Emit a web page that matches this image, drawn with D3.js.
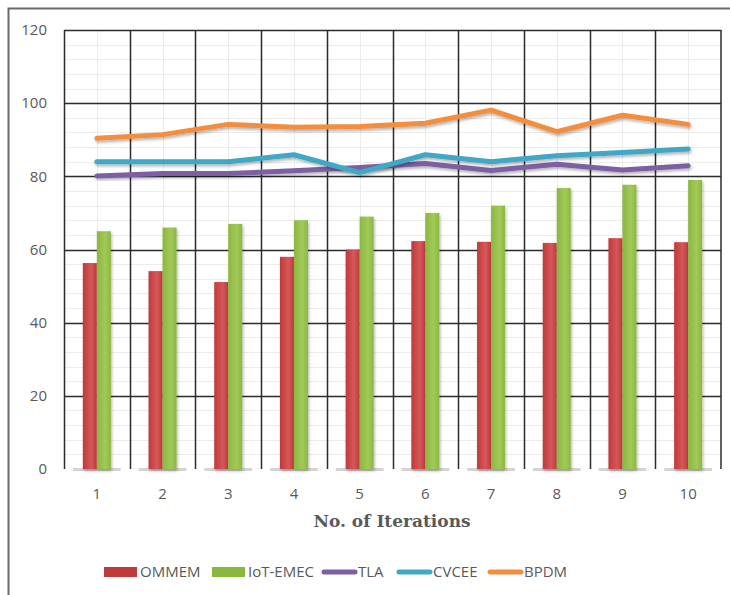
<!DOCTYPE html>
<html>
<head>
<meta charset="utf-8">
<script src="https://cdn.jsdelivr.net/npm/d3@7"></script>
<style>
  body { margin: 0; background: #fff; }
  svg { display: block; }
</style>
</head>
<body>
<svg id="chart" width="730" height="595"></svg>
<script>
// data
var iterations = ["1", "2", "3", "4", "5", "6", "7", "8", "9", "10"];
var ommem   = [56.3, 54.1, 51.1, 58, 60, 62.3, 62.1, 61.8, 63.1, 62];
var iotEmec = [65, 66, 67, 68, 69, 70, 72, 76.8, 77.7, 79];
var tla     = [80.1, 80.8, 80.8, 81.5, 82.4, 83.5, 81.6, 83.3, 81.7, 82.9];
var cvcee   = [84, 84, 84, 85.9, 81, 85.9, 84, 85.6, 86.5, 87.5];
var bpdm    = [90.4, 91.4, 94.2, 93.4, 93.6, 94.5, 98.1, 92.2, 96.7, 94.2];
var yTicks  = [0, 20, 40, 60, 80, 100, 120];

var barSeries = [
  {name: "OMMEM", values: ommem, color: "#c0393b", light: "#d5585a"},
  {name: "IoT-EMEC", values: iotEmec, color: "#8ab83e", light: "#a2c95a"}
];
var lineSeries = [
  {name: "TLA", values: tla, color: "#7d5fa3"},
  {name: "CVCEE", values: cvcee, color: "#3fa8c4"},
  {name: "BPDM", values: bpdm, color: "#f28e3c"}
];

var svg = d3.select("#chart");
var plotL = 64, plotR = 721, plotT = 30, plotB = 469;
var textColor = "#595959";

var x = d3.scaleBand().domain(iterations).range([plotL, plotR]);
var y = d3.scaleLinear().domain([0, 120]).range([plotB, plotT]);

var defs = svg.append("defs");
var shadow = defs.append("filter").attr("id", "shadow")
    .attr("x", "-20%").attr("y", "-20%").attr("width", "140%").attr("height", "160%");
shadow.append("feDropShadow")
    .attr("dx", 1).attr("dy", 2).attr("stdDeviation", 1.5)
    .attr("flood-color", "#000").attr("flood-opacity", 0.3);

barSeries.forEach(function(s, i) {
  var g = defs.append("linearGradient").attr("id", "grad" + i)
      .attr("x1", 0).attr("x2", 1).attr("y1", 0).attr("y2", 0);
  g.append("stop").attr("offset", "0%").attr("stop-color", s.color);
  g.append("stop").attr("offset", "60%").attr("stop-color", s.light);
  g.append("stop").attr("offset", "100%").attr("stop-color", s.color);
});

// outer frame (only left and top visible)
svg.append("path")
    .attr("d", "M8.5,595V8.5H730")
    .attr("fill", "none").attr("stroke", "#6b6b6b").attr("stroke-width", 2);

// minor grid
var minor = d3.range(0, 121, 4).filter(function(v) { return v % 20 !== 0; });
svg.append("g").selectAll("line").data(minor).join("line")
    .attr("x1", plotL).attr("x2", plotR)
    .attr("y1", function(d) { return Math.round(y(d)) + 0.5; })
    .attr("y2", function(d) { return Math.round(y(d)) + 0.5; })
    .attr("stroke", "#ececec");
svg.append("g").selectAll("line").data(iterations).join("line")
    .attr("x1", function(d) { return Math.round(x(d) + x.bandwidth() / 2) + 0.5; })
    .attr("x2", function(d) { return Math.round(x(d) + x.bandwidth() / 2) + 0.5; })
    .attr("y1", plotT).attr("y2", plotB)
    .attr("stroke", "#ececec");

// major grid
svg.append("g").selectAll("line").data(yTicks.slice(1)).join("line")
    .attr("x1", plotL).attr("x2", plotR)
    .attr("y1", function(d) { return Math.round(y(d)) + 0.5; })
    .attr("y2", function(d) { return Math.round(y(d)) + 0.5; })
    .attr("stroke", "#2b2b2b").attr("stroke-width", 1.5);
svg.append("g").selectAll("line").data(iterations.concat(["end"])).join("line")
    .attr("x1", function(d) { return d === "end" ? plotR : Math.round(x(d)) + 0.5; })
    .attr("x2", function(d) { return d === "end" ? plotR : Math.round(x(d)) + 0.5; })
    .attr("y1", plotT).attr("y2", plotB)
    .attr("stroke", "#2b2b2b").attr("stroke-width", 1.5);

// floor platforms under bars
svg.append("g").selectAll("rect").data(iterations).join("rect")
    .attr("x", function(d) { return x(d) + 9; })
    .attr("y", plotB - 1)
    .attr("width", x.bandwidth() - 18)
    .attr("height", 3)
    .attr("fill", "#d4d4d4");

// bars
var barW = 14;
barSeries.forEach(function(s, i) {
  svg.append("g").attr("filter", "url(#shadow)")
    .selectAll("rect").data(s.values).join("rect")
      .attr("x", function(d, j) { return x(iterations[j]) + x.bandwidth() / 2 + (i - 1) * barW; })
      .attr("y", function(d) { return y(d); })
      .attr("width", barW)
      .attr("height", function(d) { return plotB - y(d); })
      .attr("fill", "url(#grad" + i + ")");
});

// lines
var line = d3.line()
    .x(function(d, j) { return x(iterations[j]) + x.bandwidth() / 2; })
    .y(function(d) { return y(d); });
lineSeries.forEach(function(s) {
  svg.append("path")
      .datum(s.values)
      .attr("d", line)
      .attr("fill", "none")
      .attr("stroke", s.color)
      .attr("stroke-width", 5)
      .attr("stroke-linecap", "round")
      .attr("stroke-linejoin", "round")
      .attr("filter", "url(#shadow)");
});

// y axis labels
svg.append("g").selectAll("text").data(yTicks).join("text")
    .attr("x", 47)
    .attr("y", function(d) { return y(d); })
    .attr("dy", "0.35em")
    .attr("text-anchor", "end")
    .attr("fill", textColor)
    .style("font", "15px 'Open Sans', sans-serif")
    .text(function(d) { return d; });

// x axis labels
svg.append("g").selectAll("text").data(iterations).join("text")
    .attr("x", function(d) { return x(d) + x.bandwidth() / 2; })
    .attr("y", 499)
    .attr("text-anchor", "middle")
    .attr("fill", textColor)
    .style("font", "15px 'Open Sans', sans-serif")
    .text(function(d) { return d; });

svg.append("text")
    .attr("x", 392).attr("y", 527)
    .attr("text-anchor", "middle")
    .attr("fill", textColor)
    .style("font", "bold 17px 'DejaVu Serif', serif")
    .text("No. of Iterations");

// legend
var legendItems = [
  {name: "OMMEM", color: "#c0393b", kind: "bar", x: 104},
  {name: "IoT-EMEC", color: "#8ab83e", kind: "bar", x: 212},
  {name: "TLA", color: "#7d5fa3", kind: "line", x: 322},
  {name: "CVCEE", color: "#3fa8c4", kind: "line", x: 397},
  {name: "BPDM", color: "#f28e3c", kind: "line", x: 488}
];
var leg = svg.append("g").selectAll("g").data(legendItems).join("g")
    .attr("transform", function(d) { return "translate(" + d.x + ",572)"; });
leg.filter(function(d) { return d.kind === "bar"; }).append("rect")
    .attr("x", 0).attr("y", -5).attr("width", 33).attr("height", 10)
    .attr("fill", function(d) { return d.color; });
leg.filter(function(d) { return d.kind === "line"; }).append("line")
    .attr("x1", 2).attr("x2", 33).attr("y1", 0).attr("y2", 0)
    .attr("stroke", function(d) { return d.color; })
    .attr("stroke-width", 5).attr("stroke-linecap", "round");
leg.append("text")
    .attr("x", 36).attr("dy", "0.35em")
    .attr("fill", textColor)
    .style("font", "15px 'Open Sans', sans-serif")
    .text(function(d) { return d.name; });
</script>
</body>
</html>
